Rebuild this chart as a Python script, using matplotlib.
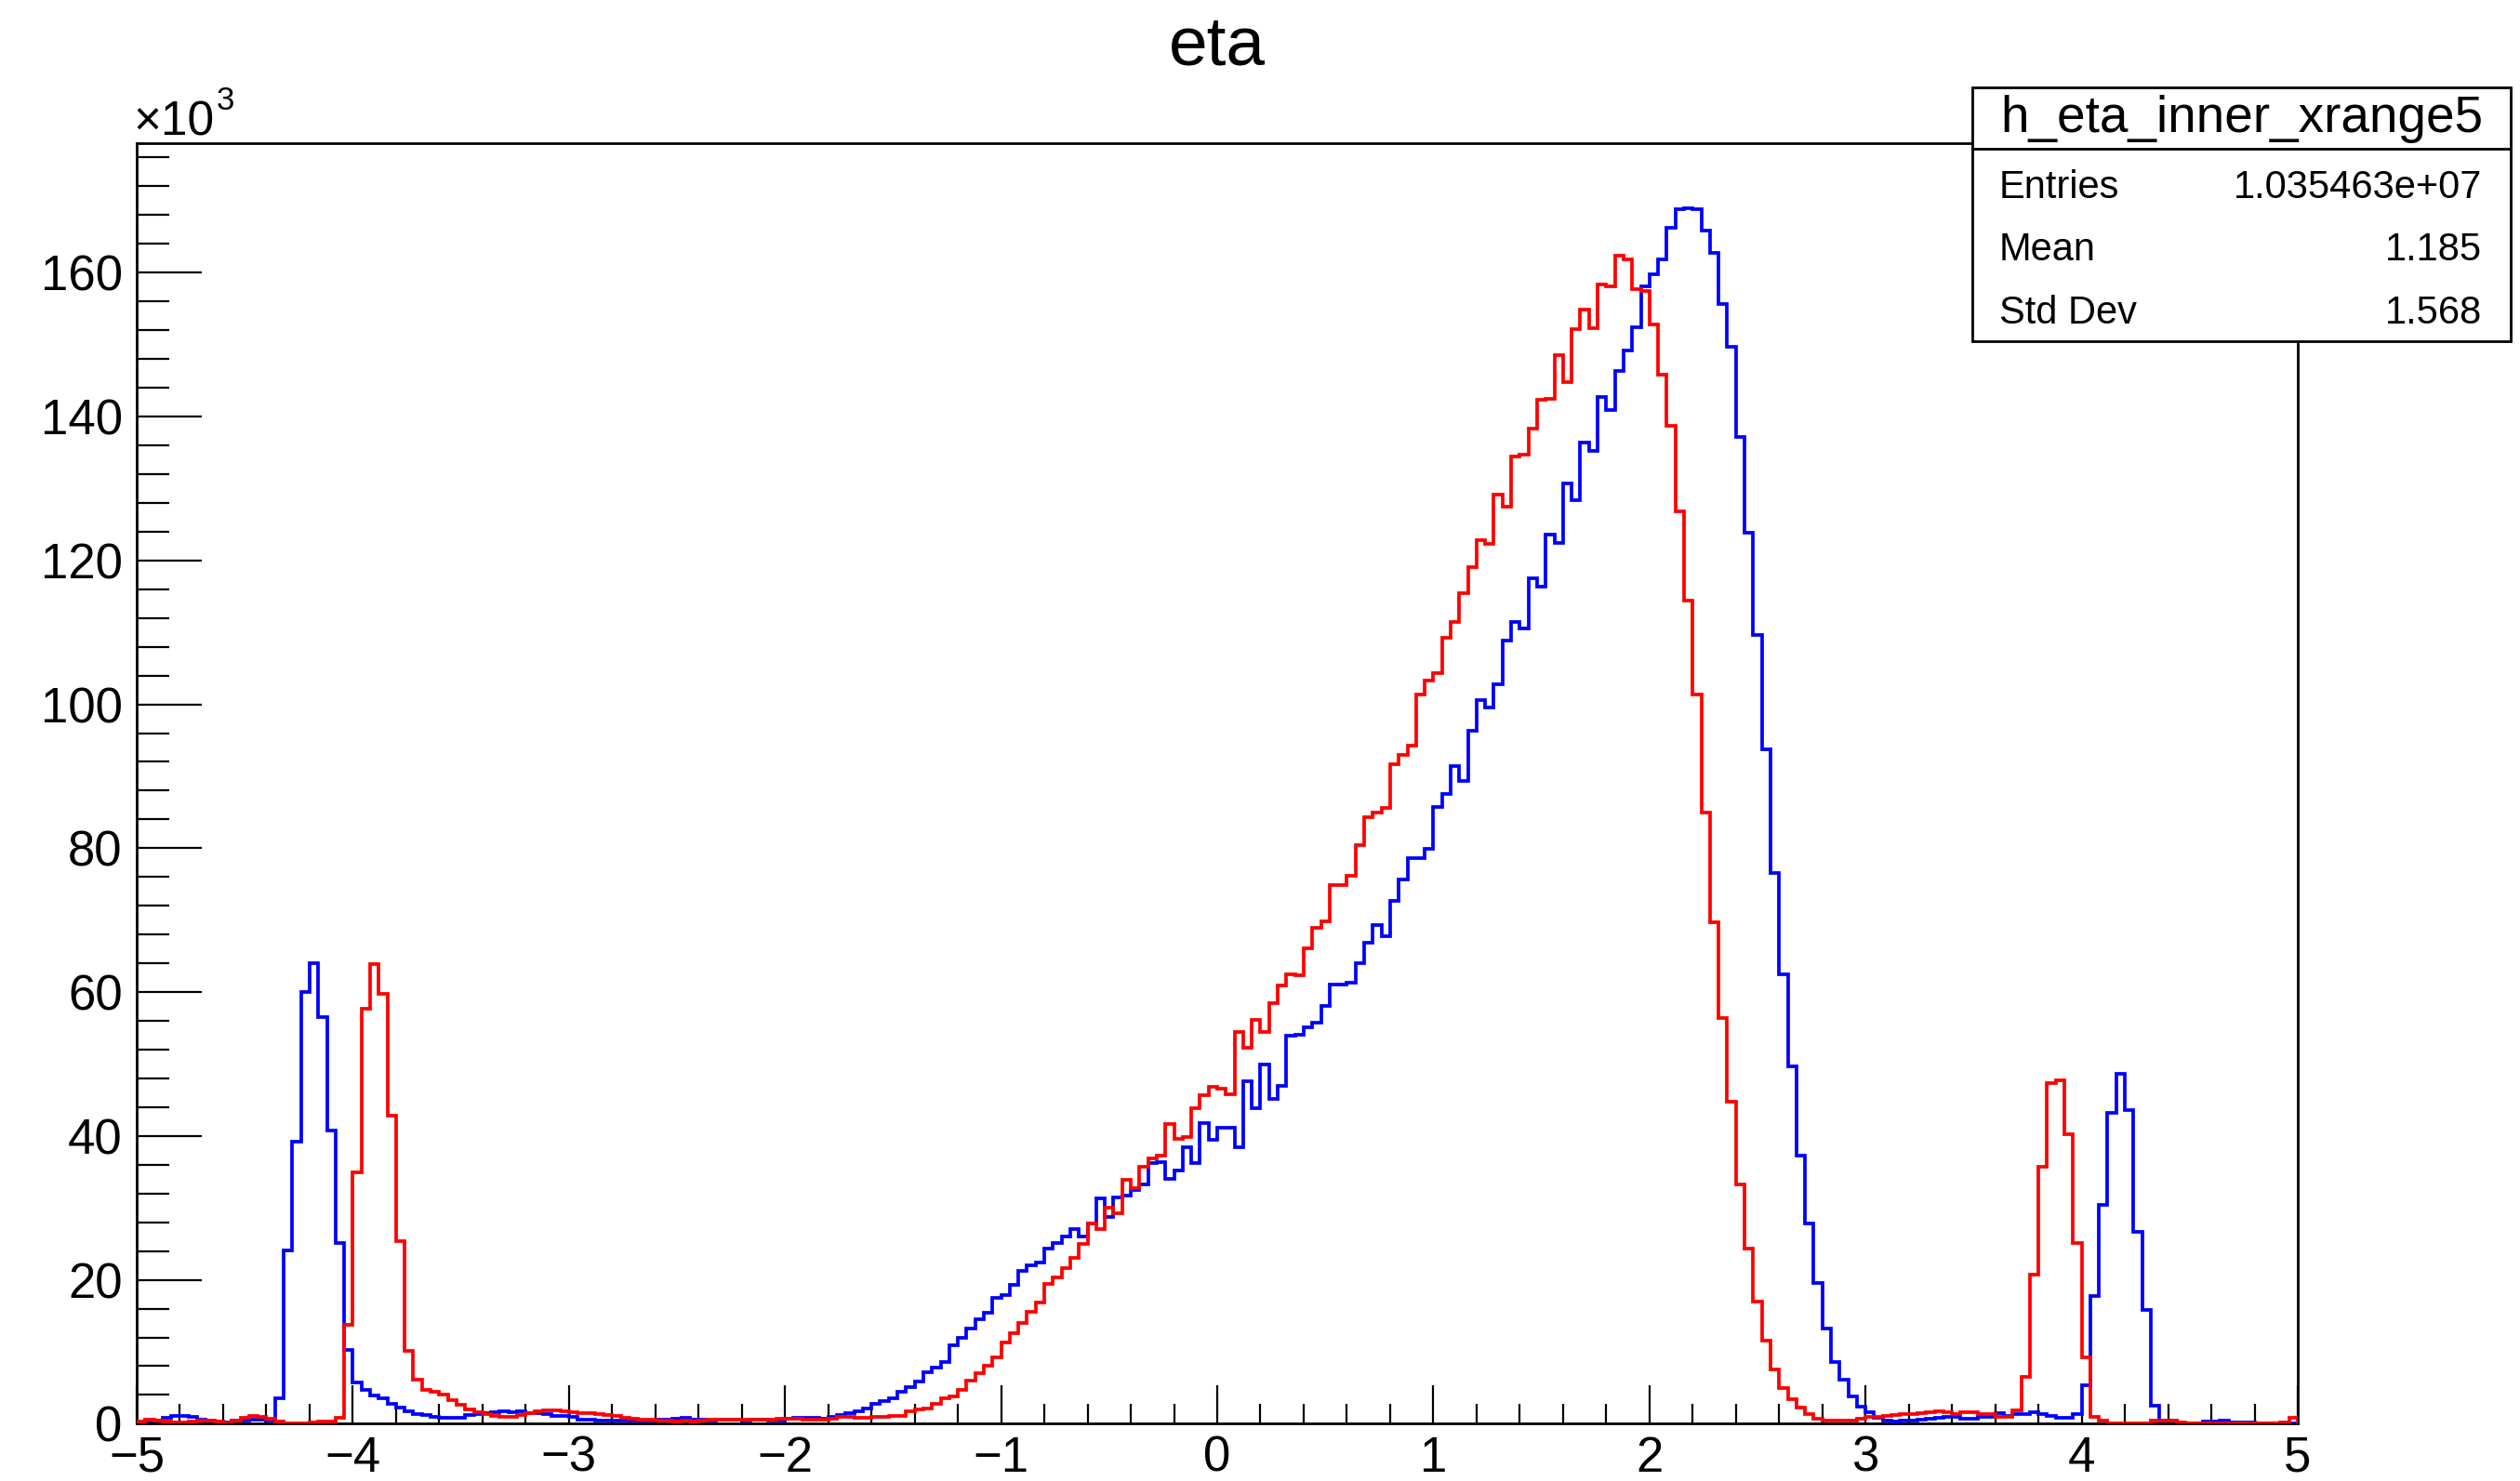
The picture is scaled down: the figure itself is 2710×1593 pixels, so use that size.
import numpy as np
import matplotlib
matplotlib.use("Agg")
import matplotlib.pyplot as plt
from matplotlib.patches import Rectangle
from matplotlib.lines import Line2D
from matplotlib.ticker import FixedLocator, MultipleLocator

plt.rcParams['font.family'] = ['Liberation Sans', 'DejaVu Sans']

# ---------------- data ----------------
x_min, x_max, n_bins = -5.0, 5.0, 250

# counts per bin, in units of 10^3
blue_counts_k = [
    0.2, 0.4, 0.5, 0.8, 1.1, 1.1, 0.9, 0.6, 0.4, 0.3,
    0.2, 0.4, 0.5, 0.6, 0.6, 0.4, 3.5, 24.1, 39.2, 60.0,
    64.0, 56.5, 40.8, 25.1, 10.3, 5.8, 4.7, 3.9, 3.5, 2.8,
    2.2, 1.75, 1.3, 1.2, 0.9, 0.8, 0.8, 0.8, 1.2, 1.3,
    1.5, 1.6, 1.7, 1.6, 1.7, 1.5, 1.5, 1.4, 1.1, 1.1,
    1.0, 0.6, 0.6, 0.4, 0.4, 0.4, 0.4, 0.5, 0.5, 0.5,
    0.6, 0.6, 0.7, 0.8, 0.6, 0.6, 0.5, 0.6, 0.6, 0.6,
    0.5, 0.6, 0.6, 0.5, 0.5, 0.7, 0.8, 0.8, 0.8, 0.7,
    1.0, 1.2, 1.5, 1.7, 2.1, 2.8, 3.1, 3.6, 4.5, 5.1,
    5.9, 7.2, 7.8, 8.6, 10.9, 11.9, 13.2, 14.5, 15.4, 17.5,
    17.9, 19.3, 21.3, 22.0, 22.4, 24.4, 25.1, 26.0, 27.0, 26.0,
    27.9, 31.3, 28.8, 31.5, 31.7, 32.5, 33.2, 36.2, 36.4, 34.0,
    35.2, 38.4, 36.2, 41.8, 39.5, 41.1, 41.2, 38.4, 47.6, 43.8,
    49.9, 45.1, 47.0, 53.9, 54.1, 55.1, 55.8, 58.1, 61.1, 61.0,
    61.3, 64.0, 66.8, 69.3, 67.8, 72.7, 75.6, 78.6, 78.6, 79.9,
    85.7, 87.5, 91.4, 89.4, 96.3, 100.6, 99.5, 102.8, 108.8, 111.5,
    110.5, 117.5, 116.4, 123.6, 122.4, 130.7, 128.4, 136.4, 135.2, 142.7,
    140.9, 146.4, 149.2, 152.4, 158.1, 159.8, 161.8, 166.3, 168.8, 169.0,
    168.8, 165.8, 162.7, 155.7, 149.7, 137.1, 123.9, 109.6, 93.7, 76.6,
    62.5, 49.7, 37.3, 27.9, 19.6, 13.2, 8.6, 6.1, 3.8, 2.4,
    1.6, 0.8, 0.4, 0.3, 0.4, 0.5, 0.6, 0.7, 0.8, 0.9,
    1.0, 0.7, 0.7, 1.0, 1.0, 1.5, 1.1, 1.4, 1.4, 1.6,
    1.4, 1.1, 0.8, 0.8, 1.3, 5.3, 17.7, 30.4, 43.2, 48.7,
    43.6, 26.7, 15.8, 2.5, 0.45, 0.45, 0.1, 0.1, 0.1, 0.3,
    0.3, 0.5, 0.2, 0.2, 0.2, 0.1, 0.1, 0.1, 0.1, 0.1,
]

red_counts_k = [
    0.3, 0.6, 0.5, 0.3, 0.2, 0.2, 0.3, 0.4, 0.4, 0.3,
    0.1, 0.5, 0.8, 1.1, 1.0, 0.7, 0.3, 0.1, 0.0, 0.1,
    0.2, 0.3, 0.3, 0.8, 13.7, 35.0, 57.7, 63.9, 59.7, 42.8,
    25.4, 10.1, 6.1, 4.7, 4.5, 4.0, 3.3, 2.6, 2.0, 1.6,
    1.3, 1.1, 0.9, 0.9, 1.2, 1.5, 1.7, 1.8, 1.8, 1.7,
    1.6, 1.5, 1.5, 1.3, 1.2, 1.1, 0.8, 0.7, 0.6, 0.6,
    0.5, 0.4, 0.3, 0.4, 0.3, 0.5, 0.6, 0.6, 0.6, 0.6,
    0.6, 0.6, 0.6, 0.6, 0.7, 0.7, 0.7, 0.6, 0.6, 0.6,
    0.7, 1.0, 0.9, 0.8, 0.8, 1.0, 1.0, 1.1, 1.1, 1.7,
    2.0, 2.1, 2.8, 3.6, 3.8, 4.7, 6.0, 7.0, 8.0, 9.2,
    11.3, 12.6, 14.0, 15.6, 16.9, 19.5, 20.4, 21.6, 23.1, 25.0,
    27.9, 27.0, 30.0, 29.2, 33.9, 32.7, 35.7, 36.9, 37.3, 41.6,
    39.6, 39.9, 43.9, 45.7, 46.8, 46.6, 45.8, 54.5, 52.2, 56.2,
    54.4, 58.4, 60.9, 62.5, 62.3, 66.1, 68.9, 69.8, 74.9, 74.9,
    76.2, 80.4, 84.3, 84.9, 85.6, 91.7, 93.0, 94.3, 101.4, 103.3,
    104.3, 109.2, 111.4, 115.5, 119.1, 122.8, 122.3, 129.1, 127.5, 134.4,
    134.7, 138.3, 142.3, 142.4, 148.5, 144.8, 152.2, 154.9, 152.3, 158.4,
    158.1, 162.3, 161.9, 157.7, 157.5, 152.8, 145.8, 138.7, 126.8, 114.4,
    101.4, 84.9, 69.7, 56.4, 44.8, 33.2, 24.3, 17.0, 11.5, 7.5,
    4.9, 3.4, 2.2, 1.3, 0.7, 0.4, 0.4, 0.4, 0.4, 0.7,
    0.9, 1.0, 1.1, 1.2, 1.3, 1.4, 1.5, 1.6, 1.7, 1.6,
    1.4, 1.6, 1.6, 1.4, 1.3, 1.0, 1.0, 1.8, 6.5, 20.7,
    35.7, 47.3, 47.7, 40.3, 25.1, 9.2, 1.0, 0.4, 0.1, 0.1,
    0.1, 0.1, 0.1, 0.4, 0.4, 0.4, 0.2, 0.1, 0.1, 0.1,
    0.1, 0.1, 0.1, 0.1, 0.1, 0.1, 0.1, 0.1, 0.2, 0.8,
]

title = "eta"
stats_name = "h_eta_inner_xrange5"
stats_labels = ["Entries", "Mean", "Std Dev"]
stats_values = ["1.035463e+07", "1.185", "1.568"]
x_ticks = [-5, -4, -3, -2, -1, 0, 1, 2, 3, 4, 5]
y_ticks = [0, 20, 40, 60, 80, 100, 120, 140, 160]
y_max = 178.0

# ---------------- figure ----------------
W, H = 2710, 1593
fig = plt.figure(figsize=(W / 100, H / 100), dpi=100)
fig.patch.set_facecolor("white")

ax_l, ax_r, ax_t, ax_b = 147, 2471, 154, 1531.4
ax = fig.add_axes([ax_l / W, 1 - ax_b / H, (ax_r - ax_l) / W, (ax_b - ax_t) / H])

edges = np.linspace(x_min, x_max, n_bins + 1)
ax.stairs(blue_counts_k, edges, color=(0, 0, 1), linewidth=2.7, baseline=0, zorder=3)
ax.stairs(red_counts_k, edges, color=(1, 0, 0), linewidth=2.7, baseline=0, zorder=4)

ax.set_xlim(x_min, x_max)
ax.set_ylim(0, y_max)

for s in ax.spines.values():
    s.set_linewidth(2.0)
    s.set_color("black")

ax.xaxis.set_major_locator(FixedLocator(x_ticks))
ax.xaxis.set_minor_locator(MultipleLocator(0.2))
ax.yaxis.set_major_locator(FixedLocator(y_ticks))
ax.yaxis.set_minor_locator(MultipleLocator(4))
ax.set_xticklabels([str(v).replace("-", "\u2212") for v in x_ticks])
ax.set_yticklabels([str(v) for v in y_ticks])

ax.tick_params(axis="x", which="major", direction="in", length=29.5, width=1.6,
               labelsize=38, pad=9, top=False)
ax.tick_params(axis="x", which="minor", direction="in", length=14.8, width=1.6, top=False)
ax.tick_params(axis="y", which="major", direction="in", length=50.4, width=1.6,
               labelsize=38, pad=11, right=False)
ax.tick_params(axis="y", which="minor", direction="in", length=25.2, width=1.6, right=False)

# exponent label
fig.text(143 / W, 1 - 146 / H, "\u00d710", fontsize=37, ha="left", va="baseline")
fig.text(233 / W, 1 - 118 / H, "3", fontsize=25, ha="left", va="baseline")

# title
fig.text((ax_l + ax_r) / 2 / W, 1 - 69 / H, title, fontsize=54, ha="center", va="baseline")

# stats box
bx0, bx1, by0, by1, bsep = 2121, 2700, 94, 367, 160
box = Rectangle((bx0 / W, 1 - by1 / H), (bx1 - bx0) / W, (by1 - by0) / H,
                transform=fig.transFigure, facecolor="white", edgecolor="black",
                linewidth=2.0, zorder=10)
fig.add_artist(box)
fig.add_artist(Line2D([bx0 / W, bx1 / W], [1 - bsep / H, 1 - bsep / H],
                      transform=fig.transFigure, color="black", linewidth=2.0, zorder=11))
fig.text((bx0 + bx1) / 2 / W, 1 - 141.7 / H, stats_name, fontsize=39.5,
         ha="center", va="baseline", zorder=12)
row_baselines = [213.3, 280.5, 348.3]
for lab, val, yb in zip(stats_labels, stats_values, row_baselines):
    fig.text(2150 / W, 1 - yb / H, lab, fontsize=30, ha="left", va="baseline", zorder=12)
    fig.text(2669 / W, 1 - yb / H, val, fontsize=30, ha="right", va="baseline", zorder=12)

fig.savefig("out.png", dpi=100, facecolor="white")
